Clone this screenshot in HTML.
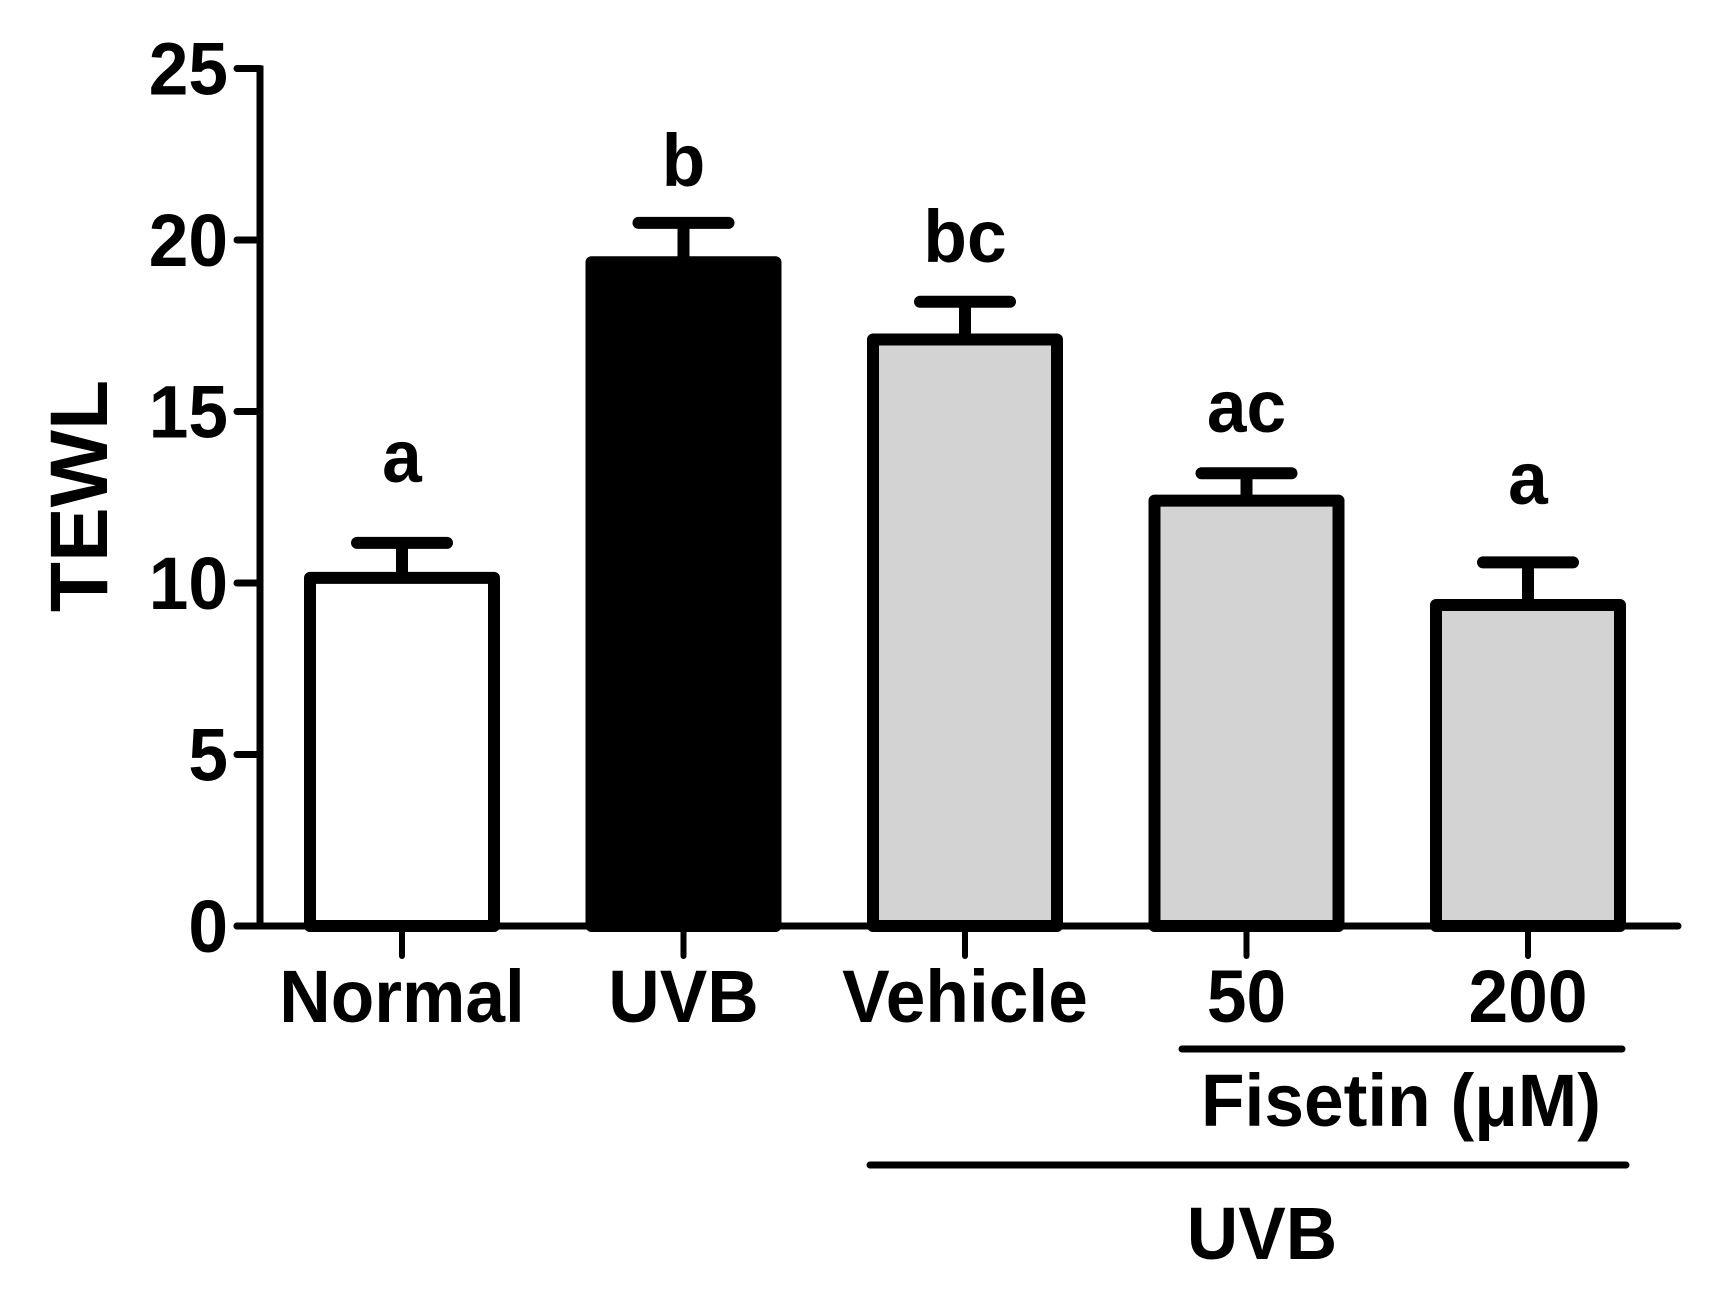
<!DOCTYPE html>
<html><head><meta charset="utf-8"><style>
html,body{margin:0;padding:0;background:#fff;}
svg{display:block;}
text{font-family:"Liberation Sans",Arial,sans-serif;font-weight:bold;fill:#000;}
</style></head><body>
<svg id="chart" width="1724" height="1310" viewBox="0 0 1724 1310" xmlns="http://www.w3.org/2000/svg">
<g id="plot"></g>
</svg>
<script>
const categories = ["Normal", "UVB", "Vehicle", "50", "200"];
const means = [10.15, 19.35, 17.1, 12.4, 9.36];
const errTops = [11.17, 20.5, 18.2, 13.2, 10.6];
const sigLetters = ["a", "b", "bc", "ac", "a"];
const letterLevels = [12.94, 21.57, 19.36, 14.4, 12.3];
const fills = ["#ffffff", "#000000", "#d3d3d3", "#d3d3d3", "#d3d3d3"];
const yTicks = [0, 5, 10, 15, 20, 25];
const yTickLabels = ["0", "5", "10", "15", "20", "25"];

const NS = "http://www.w3.org/2000/svg";
const g = document.getElementById("plot");
const y0 = 926, unit = 34.3;
const yScale = v => y0 - v * unit;
const xScale = i => 402 + i * 281.5;
const axisX = 260;

function mk(tag, attrs, parent) {
  const e = document.createElementNS(NS, tag);
  for (const k in attrs) e.setAttribute(k, attrs[k]);
  (parent || g).appendChild(e);
  return e;
}
function txt(str, x, y, size, anchor) {
  const t = mk("text", {x: 0, y: 0, "font-size": size, "text-anchor": anchor,
    transform: "translate(" + x + "," + y + ") scale(1.08,1.12)"});
  t.textContent = str;
  return t;
}

categories.forEach((c, i) => {
  const cx = xScale(i), top = yScale(means[i]);
  const r = mk("rect", {x: cx - 92, y: top, width: 184, height: y0 - top,
    fill: fills[i], stroke: "#000", "stroke-width": 12, "stroke-linejoin": "round"});
  
  
  const ey = yScale(errTops[i]);
  const v = mk("line", {x1: cx, x2: cx, y1: top, y2: ey, stroke: "#000", "stroke-width": 12});
  
  
  const cap = mk("line", {x1: cx - 45, x2: cx + 45, y1: ey, y2: ey, stroke: "#000", "stroke-width": 12, "stroke-linecap": "round"});
  
  
  const l = txt(sigLetters[i], cx, yScale(letterLevels[i]), 66, "middle");
  
  
  const tk = mk("line", {x1: cx, x2: cx, y1: y0, y2: 956, stroke: "#000", "stroke-width": 6, "stroke-linecap": "round"});
  
  
  const tl = txt(c, cx, 1022, 66, "middle");
  
  
});

const ya = mk("line", {x1: axisX, x2: axisX, y1: yScale(25) - 3, y2: y0, stroke: "#000", "stroke-width": 7});


const xa = mk("line", {x1: 237, x2: 1678, y1: y0, y2: y0, stroke: "#000", "stroke-width": 7, "stroke-linecap": "round"});


yTicks.forEach((v, i) => {
  const yy = yScale(v);
  const t = mk("line", {x1: 237, x2: axisX, y1: yy, y2: yy, stroke: "#000", "stroke-width": 7, "stroke-linecap": "round"});
  
  
  const lb = txt(yTickLabels[i], 228, yy + 26, 66, "end");
  
  
});

const yt = mk("text", {x: 0, y: 0, "font-size": 82, "text-anchor": "middle",
  transform: "translate(107,496) rotate(-90)"});
yt.textContent = "TEWL";



const fl = mk("line", {x1: 1182, x2: 1622, y1: 1049, y2: 1049, stroke: "#000", "stroke-width": 7, "stroke-linecap": "round"});


const ft = txt("Fisetin (\u03bcM)", 1401, 1126, 66, "middle");


const ul = mk("line", {x1: 870, x2: 1626, y1: 1165, y2: 1165, stroke: "#000", "stroke-width": 7, "stroke-linecap": "round"});


const ut = txt("UVB", 1262, 1259, 66, "middle");


</script>
</body></html>
